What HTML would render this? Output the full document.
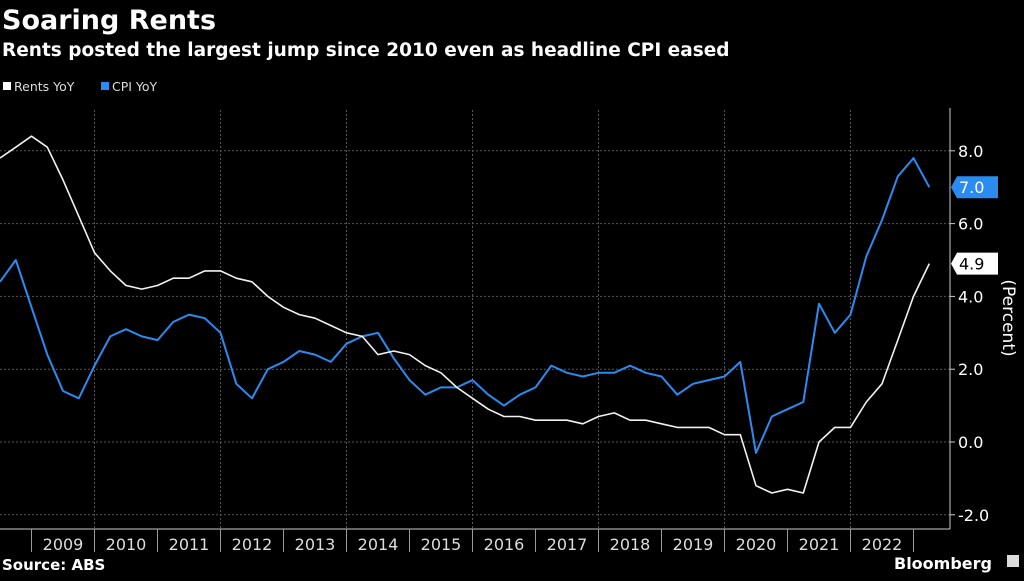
<!DOCTYPE html>
<html><head><meta charset="utf-8">
<style>
html,body{margin:0;padding:0;background:#000;}
body{width:1024px;height:576px;overflow:hidden;font-family:"Liberation Sans","DejaVu Sans",sans-serif;}
svg text{font-family:"DejaVu Sans","Liberation Sans",sans-serif;}
</style></head>
<body>
<svg id="chart" width="1024" height="576" viewBox="0 0 1024 576" xmlns="http://www.w3.org/2000/svg">
<rect x="0" y="0" width="1024" height="576" fill="#000"/>
<text x="2" y="29" fill="#fff" font-size="27" font-weight="bold">Soaring Rents</text>
<text x="2" y="56" fill="#fff" font-size="18.5" font-weight="bold">Rents posted the largest jump since 2010 even as headline CPI eased</text>
<g>
<rect x="3" y="82" width="8" height="8" fill="#fff"/>
<text x="14" y="91" fill="#ddd" font-size="12.5">Rents YoY</text>
<rect x="101" y="82" width="8" height="8" fill="#2a8cf0"/>
<text x="112" y="91" fill="#ddd" font-size="12.5">CPI YoY</text>
</g>
<g id="grid"></g>
<g id="axes"></g>
<g id="series"></g>
<text transform="translate(1003,318) rotate(90)" fill="#fff" font-size="17" text-anchor="middle">(Percent)</text>
<text x="2" y="570" fill="#fff" font-size="15" font-weight="bold">Source: ABS</text>
<text x="894" y="569" fill="#fff" font-size="16" font-weight="bold" font-family="Liberation Sans">Bloomberg</text>
<rect x="1007" y="555" width="12" height="12" fill="#ddd"/>
</svg>
<script>
const rents = [7.8,8.1,8.4,8.1,7.2,6.2,5.2,4.7,4.3,4.2,4.3,4.5,4.5,4.7,4.7,4.5,4.4,4.0,3.7,3.5,3.4,3.2,3.0,2.9,2.4,2.5,2.4,2.1,1.9,1.5,1.2,0.9,0.7,0.7,0.6,0.6,0.6,0.5,0.7,0.8,0.6,0.6,0.5,0.4,0.4,0.4,0.2,0.2,-1.2,-1.4,-1.3,-1.4,0.0,0.4,0.4,1.1,1.6,2.8,4.0,4.9];
const cpi = [4.4,5.0,3.7,2.4,1.4,1.2,2.1,2.9,3.1,2.9,2.8,3.3,3.5,3.4,3.0,1.6,1.2,2.0,2.2,2.5,2.4,2.2,2.7,2.9,3.0,2.3,1.7,1.3,1.5,1.5,1.7,1.3,1.0,1.3,1.5,2.1,1.9,1.8,1.9,1.9,2.1,1.9,1.8,1.3,1.6,1.7,1.8,2.2,-0.3,0.7,0.9,1.1,3.8,3.0,3.5,5.1,6.1,7.3,7.8,7.0];
const years = ["2009","2010","2011","2012","2013","2014","2015","2016","2017","2018","2019","2020","2021","2022"];
const yTicks = [8,6,4,2,0,-2];
const firstYear = 2009, firstIndexQuarter = -2; // data starts two quarters before 2009

const NS="http://www.w3.org/2000/svg";
const qw = 15.75, x0 = 0;
function xIdx(i){return x0 + i*qw;}
function xYear(y){return xIdx((y-firstYear)*4 - firstIndexQuarter);}
function yv(v){return 442 - v*36.4;}
function mk(tag,attrs,parent){const e=document.createElementNS(NS,tag);for(const k in attrs)e.setAttribute(k,attrs[k]);parent.appendChild(e);return e;}
const grid=document.getElementById('grid'), axes=document.getElementById('axes'), series=document.getElementById('series');

yTicks.forEach(t=>{
  const l=mk('line',{x1:0,x2:950,y1:yv(t),y2:yv(t),stroke:'#555','stroke-dasharray':'2,2','stroke-width':1},grid);
  
  
  const tk=mk('line',{x1:950,x2:955,y1:yv(t),y2:yv(t),stroke:'#ccc'},axes);
  
  
  const tx=mk('text',{x:958,y:yv(t)+6,fill:'#fff','font-size':16},axes);
  tx.textContent=t.toFixed(1);
  
  
});
for(let y=2010;y<=2022;y+=2){
  const l=mk('line',{x1:xYear(y),x2:xYear(y),y1:110,y2:529,stroke:'#555','stroke-dasharray':'2,2'},grid);
  
  
}
const xa=mk('line',{x1:0,x2:950,y1:529,y2:529,stroke:'#ccc'},axes);


const ya=mk('line',{x1:950,x2:950,y1:108,y2:529,stroke:'#ccc'},axes);


years.forEach((ys,k)=>{
  const y=+ys;
  const tk=mk('line',{x1:xYear(y),x2:xYear(y),y1:529,y2:552,stroke:'#999'},axes);
  
  
  const tx=mk('text',{x:(xYear(y)+xYear(y+1))/2,y:550,fill:'#ddd','font-size':16,'text-anchor':'middle'},axes);
  tx.textContent=ys;
  
  
});
const tkEnd=mk('line',{x1:xYear(2023),x2:xYear(2023),y1:529,y2:552,stroke:'#999'},axes);



function path(arr){return arr.map((v,i)=>(i?'L':'M')+xIdx(i).toFixed(1)+','+yv(v).toFixed(1)).join(' ');}
const pc=mk('path',{d:path(cpi),fill:'none',stroke:'#2a8cf0','stroke-width':2,'stroke-linejoin':'round'},series);


const pr=mk('path',{d:path(rents),fill:'none',stroke:'#f2f2f2','stroke-width':1.6,'stroke-linejoin':'round'},series);



function badge(v,bg,fg,name){
  const y=yv(v);
  const g=mk('g',{},series);
  
  
  mk('path',{d:`M951,${y} L957,${y-11} L998,${y-11} L998,${y+11} L957,${y+11} Z`,fill:bg},g);
  const t=mk('text',{x:959,y:y+6,fill:fg,'font-size':16},g);
  t.textContent=v.toFixed(1);
}
badge(cpi[cpi.length-1],'#2a8cf0','#fff','cpi-last-value-badge');
badge(rents[rents.length-1],'#fff','#000','rents-last-value-badge');
</script>
</body></html>
